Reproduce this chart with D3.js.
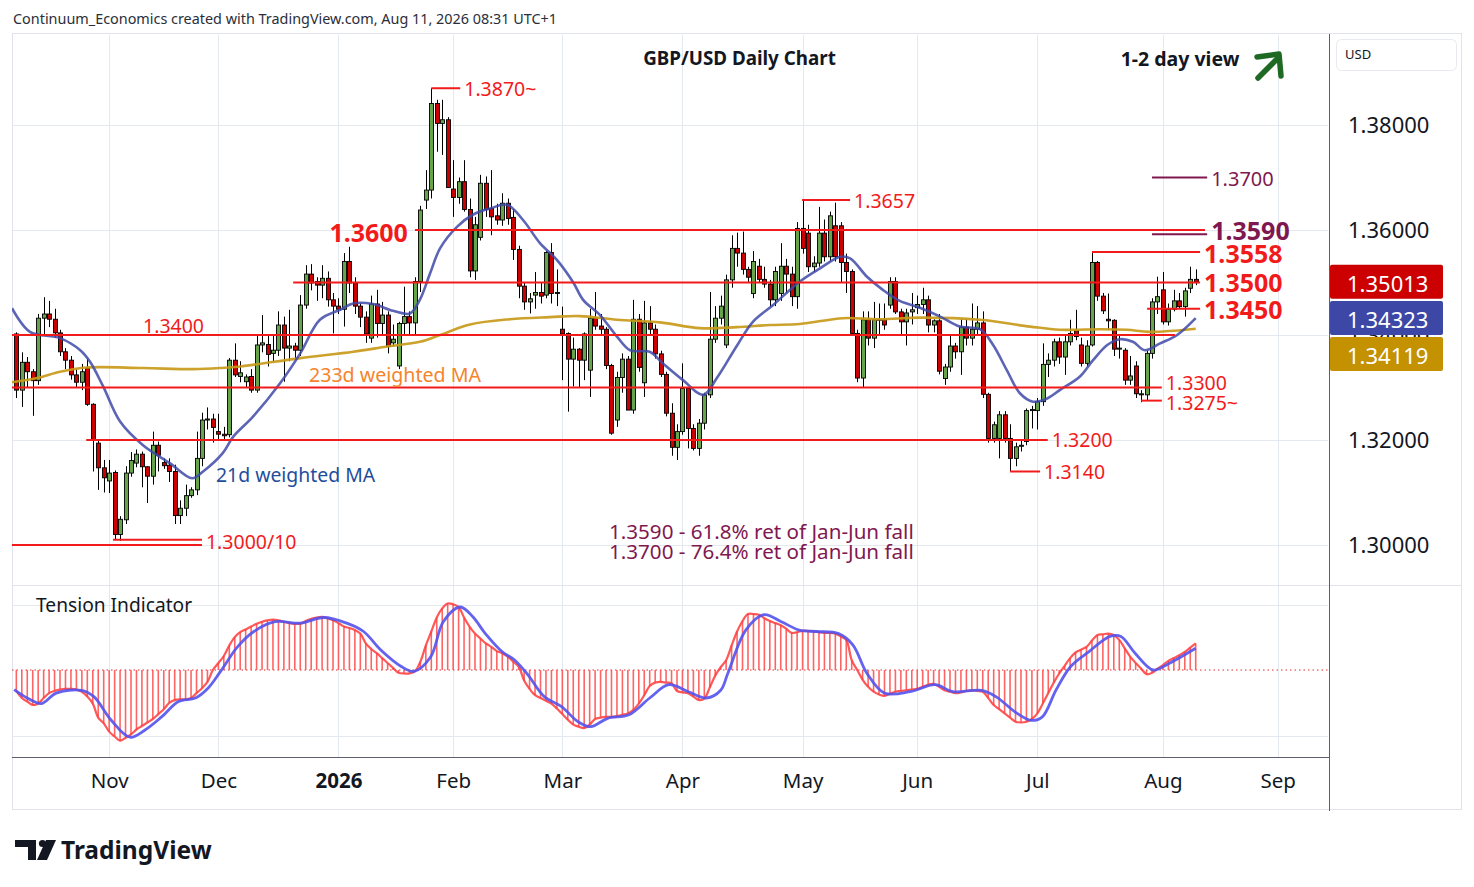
<!DOCTYPE html>
<html><head><meta charset="utf-8">
<script src="https://cdn.jsdelivr.net/npm/d3@7"></script>
<style>body{margin:0;background:#fff;overflow:hidden}text{font-family:"Noto Sans",sans-serif}</style>
</head><body><svg id="c" width="1474" height="887"></svg>
<script>
// ---------------- DATA ----------------
const open=[1.3402,1.3295,1.3348,1.3330,1.3313,1.3432,1.3440,1.3430,1.3404,1.3368,1.3352,1.3324,1.3310,1.3337,1.3268,1.3194,1.3147,
1.3122,1.3138,1.3020,1.3048,1.3137,1.3156,1.3173,1.3149,1.3131,1.3190,1.3157,1.3152,1.3140,1.3056,1.3070,1.3094,1.3105,1.3165,1.3238,1.3240,
1.3216,1.3211,1.3210,1.3352,1.3321,1.3311,1.3321,1.3295,1.3381,1.3382,1.3365,1.3371,1.3419,1.3375,1.3379,1.3371,1.3457,1.3516,1.3502,1.3495,1.3508,1.3467,
1.3455,1.3449,1.3540,1.3499,1.3455,1.3434,1.3394,1.3459,1.3422,1.3438,1.3385,1.3341,1.3422,1.3435,1.3423,1.3502,1.3657,1.3676,1.3841,1.3803,1.3810,
1.3678,1.3662,1.3692,1.3639,1.3522,1.3586,1.3689,1.3641,1.3627,1.3619,1.3651,1.3624,1.3563,1.3493,1.3463,1.3476,1.3481,1.3476,1.3557,1.3480,
1.3411,1.3403,1.3354,1.3373,1.3352,1.3333,1.3432,1.3417,1.3411,1.3342,1.3238,1.3319,1.3354,1.3257,1.3430,1.3309,1.3423,1.3411,1.3364,1.3325,1.3251,1.3186,
1.3216,1.3298,1.3222,1.3184,1.3232,1.3286,1.3392,1.3432,1.3381,1.3505,1.3565,1.3556,1.3525,1.3479,1.3531,1.3506,1.3497,1.3467,1.3479,1.3531,1.3516,1.3473,
1.3603,1.3594,1.3530,1.3537,1.3594,1.3549,1.3608,1.3608,1.3538,1.3521,1.3403,1.3318,1.3429,1.3394,1.3430,1.3429,1.3457,1.3502,1.3444,1.3425,1.3444,
1.3452,1.3458,1.3467,1.3419,1.3427,1.3317,1.3339,1.3379,1.3368,1.3415,1.3394,1.3411,1.3423,1.3287,1.3203,1.3203,1.3248,1.3203,1.3165,1.3188,1.3197,1.3256,
1.3256,1.3273,1.3344,1.3352,1.3387,1.3358,1.3387,1.3408,1.3381,1.3346,1.3381,1.3538,1.3474,1.3430,1.3428,1.3373,1.3371,1.3314,1.3341,1.3286,1.3286,1.3365,1.3463,
1.3486,1.3425,1.3449,1.3465,1.3454,1.3489,1.3506];
const high=[1.3405,1.3367,1.3358,1.3335,1.3440,1.3472,1.3465,1.3450,1.3410,1.3375,1.3360,1.3335,1.3345,1.3355,1.3270,1.3200,1.3162,
1.3162,1.3142,1.3055,1.3150,1.3177,1.3182,1.3178,1.3150,1.3216,1.3197,1.3165,1.3165,1.3153,1.3085,1.3115,1.3110,1.3216,1.3252,1.3262,1.3250,
1.3250,1.3225,1.3356,1.3384,1.3350,1.3325,1.3335,1.3398,1.3438,1.3400,1.3400,1.3445,1.3435,1.3448,1.3385,1.3476,1.3533,1.3535,1.3510,1.3533,1.3521,1.3480,
1.3470,1.3556,1.3568,1.3510,1.3460,1.3445,1.3475,1.3486,1.3463,1.3445,1.3420,1.3425,1.3492,1.3445,1.3510,1.3646,1.3714,1.3870,1.3848,1.3848,1.3815,
1.3733,1.3700,1.3733,1.3660,1.3625,1.3705,1.3702,1.3714,1.3650,1.3670,1.3660,1.3640,1.3570,1.3500,1.3480,1.3520,1.3500,1.3560,1.3575,1.3525,
1.3454,1.3405,1.3395,1.3375,1.3405,1.3450,1.3482,1.3440,1.3415,1.3345,1.3330,1.3365,1.3360,1.3467,1.3440,1.3465,1.3455,1.3420,1.3370,1.3330,1.3270,1.3230,
1.3346,1.3300,1.3230,1.3240,1.3290,1.3482,1.3455,1.3475,1.3515,1.3590,1.3595,1.3597,1.3530,1.3560,1.3545,1.3530,1.3505,1.3530,1.3575,1.3545,1.3530,1.3615,
1.3657,1.3610,1.3550,1.3644,1.3620,1.3635,1.3652,1.3615,1.3555,1.3525,1.3410,1.3445,1.3445,1.3463,1.3460,1.3460,1.3510,1.3510,1.3450,1.3450,1.3480,
1.3475,1.3490,1.3475,1.3430,1.3440,1.3345,1.3400,1.3385,1.3430,1.3430,1.3460,1.3455,1.3445,1.3290,1.3235,1.3255,1.3255,1.3230,1.3195,1.3200,1.3260,1.3265,
1.3280,1.3384,1.3365,1.3393,1.3395,1.3400,1.3429,1.3448,1.3395,1.3390,1.3556,1.3541,1.3480,1.3479,1.3430,1.3400,1.3375,1.3360,1.3350,1.3295,1.3370,1.3470,1.3511,
1.3520,1.3460,1.3486,1.3480,1.3490,1.3530,1.3525];
const low=[1.3280,1.3263,1.3300,1.3246,1.3305,1.3400,1.3415,1.3395,1.3360,1.3335,1.3315,1.3300,1.3295,1.3265,1.3140,1.3105,1.3100,
1.3099,1.3010,1.3008,1.3040,1.3130,1.3148,1.3110,1.3080,1.3115,1.3140,1.3145,1.3120,1.3040,1.3040,1.3055,1.3090,1.3095,1.3150,1.3220,1.3195,
1.3200,1.3200,1.3205,1.3320,1.3310,1.3300,1.3290,1.3290,1.3367,1.3340,1.3350,1.3360,1.3311,1.3350,1.3355,1.3360,1.3450,1.3485,1.3465,1.3470,1.3454,1.3403,
1.3440,1.3416,1.3480,1.3440,1.3415,1.3385,1.3385,1.3395,1.3400,1.3365,1.3378,1.3335,1.3400,1.3400,1.3400,1.3482,1.3640,1.3660,1.3749,1.3743,1.3681,
1.3625,1.3650,1.3635,1.3510,1.3505,1.3580,1.3625,1.3590,1.3610,1.3608,1.3610,1.3543,1.3470,1.3448,1.3441,1.3450,1.3460,1.3470,1.3460,1.3455,
1.3314,1.3254,1.3302,1.3300,1.3314,1.3282,1.3410,1.3400,1.3335,1.3210,1.3225,1.3290,1.3257,1.3250,1.3330,1.3282,1.3400,1.3355,1.3320,1.3245,1.3170,1.3162,
1.3210,1.3184,1.3180,1.3170,1.3220,1.3280,1.3385,1.3420,1.3375,1.3490,1.3530,1.3515,1.3500,1.3470,1.3500,1.3490,1.3454,1.3455,1.3465,1.3480,1.3455,1.3450,
1.3555,1.3520,1.3520,1.3530,1.3540,1.3540,1.3540,1.3500,1.3480,1.3400,1.3310,1.3300,1.3380,1.3375,1.3400,1.3410,1.3450,1.3440,1.3400,1.3380,1.3420,
1.3440,1.3440,1.3405,1.3405,1.3325,1.3305,1.3330,1.3355,1.3324,1.3380,1.3380,1.3400,1.3280,1.3195,1.3195,1.3165,1.3195,1.3140,1.3150,1.3178,1.3190,1.3222,
1.3220,1.3265,1.3320,1.3340,1.3345,1.3324,1.3380,1.3390,1.3340,1.3340,1.3378,1.3465,1.3440,1.3410,1.3360,1.3355,1.3305,1.3305,1.3280,1.3272,1.3275,1.3355,1.3440,
1.3420,1.3418,1.3445,1.3450,1.3435,1.3480,1.3495];
const close=[1.3295,1.3348,1.3330,1.3313,1.3432,1.3440,1.3430,1.3404,1.3368,1.3352,1.3324,1.3310,1.3330,1.3268,1.3200,1.3147,1.3128,
1.3137,1.3020,1.3049,1.3137,1.3161,1.3173,1.3149,1.3131,1.3190,1.3171,1.3151,1.3140,1.3056,1.3070,1.3094,1.3105,1.3165,1.3238,1.3240,1.3224,
1.3211,1.3208,1.3352,1.3324,1.3328,1.3320,1.3295,1.3381,1.3385,1.3363,1.3371,1.3419,1.3375,1.3379,1.3371,1.3457,1.3516,1.3499,1.3495,1.3508,1.3467,1.3455,
1.3449,1.3540,1.3499,1.3455,1.3434,1.3402,1.3459,1.3422,1.3438,1.3378,1.3392,1.3422,1.3435,1.3423,1.3502,1.3638,1.3676,1.3841,1.3803,1.3810,1.3681,
1.3662,1.3692,1.3639,1.3522,1.3610,1.3689,1.3639,1.3625,1.3619,1.3651,1.3622,1.3563,1.3493,1.3463,1.3469,1.3481,1.3474,1.3557,1.3479,1.3481,
1.3402,1.3354,1.3373,1.3352,1.3402,1.3432,1.3417,1.3411,1.3342,1.3213,1.3319,1.3354,1.3257,1.3430,1.3338,1.3423,1.3411,1.3364,1.3325,1.3251,1.3186,1.3216,
1.3298,1.3222,1.3184,1.3232,1.3286,1.3392,1.3432,1.3455,1.3505,1.3565,1.3556,1.3525,1.3510,1.3540,1.3506,1.3497,1.3467,1.3521,1.3531,1.3516,1.3473,1.3603,
1.3565,1.3530,1.3537,1.3594,1.3549,1.3627,1.3549,1.3538,1.3521,1.3403,1.3318,1.3429,1.3394,1.3429,1.3428,1.3419,1.3502,1.3444,1.3425,1.3442,1.3448,
1.3458,1.3467,1.3419,1.3427,1.3331,1.3339,1.3379,1.3368,1.3415,1.3394,1.3411,1.3423,1.3287,1.3203,1.3229,1.3248,1.3203,1.3165,1.3187,1.3190,1.3256,1.3258,
1.3273,1.3344,1.3352,1.3387,1.3358,1.3387,1.3403,1.3397,1.3346,1.3379,1.3538,1.3474,1.3446,1.3427,1.3373,1.3375,1.3314,1.3322,1.3288,1.3288,1.3365,1.3463,1.3473,
1.3425,1.3449,1.3465,1.3454,1.3484,1.3506,1.3501];

// 21d and 233d weighted moving averages: [candle index, value]
const ma21=[[-0.8,1.3451],[2.5,1.3406],[8,1.3394],[11.7,1.3371],[13.5,1.3349],[15.9,1.3302],[19,1.3235],[23.2,1.3190],[28.1,1.3156],[32.2,1.3127],[34.2,1.3140],[37.8,1.3175],[39.7,1.3206],[43.3,1.3244],[48.3,1.3308],[52,1.3365],[55.6,1.3429],[59.3,1.3448],[61.7,1.3460],[65.3,1.3459],[69,1.3446],[72.1,1.3441],[73.9,1.3467],[75.8,1.3518],[77.6,1.3565],[80.7,1.3606],[83.6,1.3629],[86.8,1.3641],[89.9,1.3648],[92.8,1.3619],[95.9,1.3575],[99,1.3543],[102,1.3500],[103.8,1.3467],[106.9,1.3438],[110,1.3397],[112.4,1.3371],[116,1.3368],[118.4,1.3346],[122.1,1.3314],[125.8,1.3286],[128.3,1.3318],[132,1.3380],[134.9,1.3425],[138.6,1.3457],[143.5,1.3502],[147.2,1.3527],[150.9,1.3549],[152.7,1.3546],[155.8,1.3511],[158.7,1.3486],[161.8,1.3465],[165.5,1.3452],[169.2,1.3435],[172.8,1.3416],[176.5,1.3411],[178.9,1.3381],[181.4,1.3333],[183.8,1.3289],[186.2,1.3273],[188.8,1.3279],[191.1,1.3295],[194.8,1.3321],[197.2,1.3352],[199.8,1.3381],[202.1,1.3392],[204.5,1.3387],[206.7,1.3371],[209.5,1.3384],[212.6,1.3400],[216,1.3432]];
const ma233=[[-0.8,1.3310],[3.8,1.3318],[8,1.3330],[12.9,1.3338],[23.2,1.3337],[32.4,1.3335],[37.3,1.3337],[41,1.3340],[52,1.3356],[61.7,1.3368],[67.9,1.3378],[73.9,1.3387],[77.6,1.3400],[83.1,1.3420],[90.4,1.3430],[97.7,1.3434],[103.2,1.3436],[110,1.3429],[117.9,1.3424],[125.2,1.3413],[132,1.3415],[138,1.3419],[143.5,1.3421],[151.4,1.3432],[158.2,1.3430],[165.5,1.3433],[176.5,1.3429],[185.7,1.3416],[191.1,1.3410],[198.5,1.3411],[203.4,1.3410],[207.6,1.3406],[216,1.3412]];

// Tension indicator (per candle) and its signal line
const tension=[-0.30,-0.40,-0.45,-0.50,-0.48,-0.40,-0.33,-0.30,-0.28,-0.27,-0.27,-0.28,-0.31,-0.38,-0.48,-0.68,-0.76,-0.88,-0.95,-1.01,
-0.97,-0.92,-0.85,-0.80,-0.75,-0.70,-0.63,-0.56,-0.47,-0.43,-0.42,-0.42,-0.40,-0.33,-0.26,-0.17,0.00,0.10,0.20,0.35,
0.47,0.54,0.58,0.62,0.66,0.69,0.71,0.72,0.71,0.69,0.67,0.66,0.66,0.70,0.73,0.75,0.76,0.74,0.71,0.67,
0.62,0.60,0.57,0.52,0.38,0.30,0.24,0.17,0.10,0.03,-0.04,-0.05,-0.05,-0.02,0.12,0.35,0.55,0.75,0.88,0.95,
0.94,0.90,0.75,0.62,0.52,0.45,0.38,0.33,0.27,0.24,0.19,0.12,0.05,-0.15,-0.27,-0.36,-0.40,-0.44,-0.48,-0.55,
-0.63,-0.71,-0.78,-0.81,-0.83,-0.78,-0.70,-0.68,-0.67,-0.67,-0.66,-0.64,-0.62,-0.57,-0.48,-0.36,-0.23,-0.18,-0.17,-0.18,
-0.19,-0.30,-0.32,-0.33,-0.38,-0.43,-0.41,-0.25,-0.08,0.04,0.14,0.35,0.55,0.70,0.80,0.80,0.79,0.74,0.70,0.67,
0.64,0.59,0.53,0.54,0.56,0.56,0.55,0.54,0.53,0.53,0.52,0.48,0.43,0.14,0.00,-0.14,-0.24,-0.31,-0.35,-0.37,
-0.34,-0.31,-0.30,-0.29,-0.28,-0.27,-0.24,-0.21,-0.20,-0.24,-0.29,-0.31,-0.33,-0.32,-0.30,-0.29,-0.30,-0.31,-0.40,-0.50,
-0.56,-0.62,-0.68,-0.74,-0.75,-0.74,-0.70,-0.62,-0.48,-0.33,-0.18,-0.05,0.06,0.17,0.25,0.29,0.33,0.42,0.50,0.51,
0.52,0.50,0.43,0.31,0.19,0.10,0.02,-0.06,-0.04,0.02,0.07,0.13,0.17,0.21,0.26,0.32,0.38];
const tensionSignal=[[-0.4,-0.28],[2,-0.40],[4.6,-0.48],[7.3,-0.33],[11.9,-0.29],[14.2,-0.38],[17.3,-0.71],[20.8,-0.96],[23.5,-0.86],[26.6,-0.67],[29.7,-0.45],[32.8,-0.40],[35.1,-0.26],[37.4,-0.02],[40.5,0.33],[43.5,0.55],[47.4,0.69],[52,0.67],[56.3,0.75],[60.5,0.67],[63.6,0.55],[66.7,0.29],[70.5,0.05],[72.8,-0.02],[75.9,0.19],[78.2,0.69],[81.3,0.90],[83.6,0.76],[85.9,0.52],[89,0.26],[91.3,0.14],[93.7,-0.07],[96.7,-0.38],[99.8,-0.52],[102.9,-0.74],[105.2,-0.81],[108.3,-0.69],[112.2,-0.64],[116,-0.40],[119.5,-0.21],[123.1,-0.31],[126.4,-0.40],[129,-0.29],[130.3,-0.05],[133.6,0.57],[136.9,0.79],[140.1,0.69],[143.4,0.57],[146.6,0.55],[150.6,0.52],[153.2,0.36],[155.8,-0.05],[159,-0.33],[163.7,-0.31],[168.3,-0.21],[171.5,-0.31],[176.8,-0.29],[179.4,-0.38],[183.3,-0.62],[185.9,-0.72],[187.9,-0.67],[190.4,-0.29],[193.1,0.05],[196.4,0.26],[200.3,0.48],[202.3,0.48],[204.9,0.24],[208.2,0.00],[210.8,0.08],[216,0.31]];

// Trading calendar
const firstDay="2025-10-09";
const holidays=["2025-12-25","2026-01-01"];
const monthNames=["Jan","Feb","Mar","Apr","May","Jun","Jul","Aug","Sep","Oct","Nov","Dec"];

// Price axis ticks and last-value tags
const priceTicks=[1.30,1.32,1.34,1.36,1.38];
const lastValues=[{label:"close",value:1.35013},{label:"ma21",value:1.34323},{label:"ma233",value:1.34119}];

// Support / resistance annotations: price, from-candle, to-candle (labelPrice = where the text sits)
const levels=[
 {price:1.3870,from:76,to:81.3,label:"1.3870~",kind:"small",at:"right"},
 {price:1.3657,from:143.9,to:152.7,label:"1.3657",kind:"small",at:"right"},
 {price:1.3600,from:73,to:217.7,label:"1.3600",kind:"big",at:"left"},
 {price:1.3558,from:197,to:216.8,label:"1.3558",kind:"big",at:"right",labelPrice:1.3556},
 {price:1.3500,from:50.7,to:216.8,label:"1.3500",kind:"big",at:"right"},
 {price:1.3450,from:207.1,to:216.8,label:"1.3450",kind:"big",at:"right"},
 {price:1.3400,from:-0.8,to:212.2,label:"1.3400",kind:"small",at:"above",labelIdx:23.2},
 {price:1.3300,from:-0.8,to:209.8,label:"1.3300",kind:"small",at:"right",labelPrice:1.3309},
 {price:1.3275,from:206,to:209.8,label:"1.3275~",kind:"small",at:"right",labelPrice:1.3271},
 {price:1.3200,from:12.8,to:188.9,label:"1.3200",kind:"small",at:"right"},
 {price:1.3140,from:182,to:187.5,label:"1.3140",kind:"small",at:"right"},
 {price:1.3010,from:17.7,to:34,label:"",kind:"small",at:"right"},
 {price:1.3000,from:-0.8,to:34,label:"1.3000/10",kind:"small",at:"right",labelPrice:1.3006},
 {price:1.3700,from:208,to:218.1,label:"1.3700",kind:"fibSmall",at:"right",labelPrice:1.3699},
 {price:1.3592,from:208,to:218.1,label:"1.3590",kind:"fibBig",at:"right",labelPrice:1.3600}
];
const notes=["1.3590 - 61.8% ret of Jan-Jun fall","1.3700 - 76.4% ret of Jan-Jun fall"];

// ---------------- STYLES ----------------
const S={
 up:"#67a34a",down:"#cc0000",red:"#f21b1b",purple:"#801850",
 ma21:"#3f49a8",ma233:"#c89a1a",grid:"#e4e9f0",frame:"#e0e3eb",axisLine:"#5d606b",text:"#131722"
};
const kindStyle={
 big:{color:S.red,size:25,weight:700},
 small:{color:S.red,size:19.5,weight:400},
 fibBig:{color:S.purple,size:25,weight:700},
 fibSmall:{color:S.purple,size:20,weight:400}
};

// ---------------- BUILD ----------------
const fmt=d3.timeFormat("%Y-%m-%d");
const dates=[];
{ let d=d3.timeParse("%Y-%m-%d")(firstDay);
  while(dates.length<241){ const w=d.getDay(); if(w!==0&&w!==6&&!holidays.includes(fmt(d))) dates.push(new Date(d)); d=d3.timeDay.offset(d,1);} }
const monthIdx=[];
for(let i=1;i<dates.length;i++) if(dates[i].getMonth()!==dates[i-1].getMonth()) monthIdx.push(i);

const L=12,R=1328,T=35,B=585,TB=757;
const x=d3.scaleLinear().domain([-0.795,240.23]).range([L,R]);
const y=d3.scaleLinear().domain([1.29238,1.39714]).range([B,T]);
const yt=d3.scaleLinear().domain([-1,1]).range([740,600]);

const svg=d3.select("#c");
svg.append("rect").attr("width",1474).attr("height",887).attr("fill","#fff");
const defs=svg.append("defs");
defs.append("clipPath").attr("id","cm").append("rect").attr("x",L).attr("y",T-1).attr("width",R-L).attr("height",B-T+1);
defs.append("clipPath").attr("id","ct").append("rect").attr("x",L).attr("y",B+1).attr("width",R-L).attr("height",TB-B-1);

// header
svg.append("text").attr("x",13).attr("y",24).attr("font-size",14.4).attr("fill","#2a2e39")
  .text("Continuum_Economics created with TradingView.com, Aug 11, 2026 08:31 UTC+1");

// grid
const grid=svg.append("g");
monthIdx.forEach(i=>{ if(x(i)<R) grid.append("line").attr("x1",Math.round(x(i))+0.5).attr("x2",Math.round(x(i))+0.5).attr("y1",T).attr("y2",TB).attr("stroke",S.grid); });
priceTicks.forEach(p=>grid.append("line").attr("x1",L).attr("x2",R).attr("y1",Math.round(y(p))+0.5).attr("y2",Math.round(y(p))+0.5).attr("stroke",S.grid));
[0.93,-0.94].forEach(v=>grid.append("line").attr("x1",L).attr("x2",R).attr("y1",Math.round(yt(v))+0.5).attr("y2",Math.round(yt(v))+0.5).attr("stroke",S.grid));

// frame & separators
svg.append("rect").attr("x",L+0.5).attr("y",T-1.5).attr("width",1461-L).attr("height",811-T).attr("fill","none").attr("stroke",S.frame);
svg.append("line").attr("x1",L).attr("x2",1461).attr("y1",B+0.5).attr("y2",B+0.5).attr("stroke",S.frame);
svg.append("line").attr("x1",L).attr("x2",R+1).attr("y1",TB+0.5).attr("y2",TB+0.5).attr("stroke",S.axisLine);
svg.append("line").attr("x1",R+1.5).attr("x2",R+1.5).attr("y1",T-1).attr("y2",811).attr("stroke",S.axisLine);

// main pane
const main=svg.append("g").attr("clip-path","url(#cm)");
const idx=d3.range(close.length);
const cg=main.append("g");
cg.selectAll("line.w").data(idx).join("line").attr("class","w")
  .attr("x1",i=>Math.round(x(i))+0.5).attr("x2",i=>Math.round(x(i))+0.5)
  .attr("y1",i=>y(high[i])).attr("y2",i=>y(low[i])).attr("stroke","#000").attr("stroke-width",1);
cg.selectAll("rect.b").data(idx).join("rect").attr("class","b")
  .attr("x",i=>Math.round(x(i))-1.5).attr("width",4)
  .attr("y",i=>y(Math.max(open[i],close[i])))
  .attr("height",i=>Math.max(1,Math.abs(y(open[i])-y(close[i]))))
  .attr("fill",i=>close[i]>=open[i]?S.up:S.down).attr("stroke","#000").attr("stroke-width",0.9);

const lineGen=d3.line().x(d=>x(d[0])).y(d=>y(d[1])).curve(d3.curveCatmullRom.alpha(0.5));
main.append("path").attr("d",lineGen(ma233)).attr("fill","none").attr("stroke",S.ma233).attr("stroke-width",2.6).attr("opacity",0.92);
main.append("path").attr("d",lineGen(ma21)).attr("fill","none").attr("stroke",S.ma21).attr("stroke-width",2.6).attr("opacity",0.85);

// levels
const lv=svg.append("g");
levels.forEach(l=>{
  const st=kindStyle[l.kind];
  const yy=y(l.price);
  lv.append("line").attr("x1",x(l.from)).attr("x2",x(l.to)).attr("y1",yy).attr("y2",yy)
    .attr("stroke",st.color).attr("stroke-width",2);
  if(!l.label) return;
  const t=lv.append("text").attr("fill",st.color).attr("font-size",st.size).attr("font-weight",st.weight).text(l.label);
  const ty=l.labelPrice?y(l.labelPrice):yy;
  if(l.at==="right") t.attr("x",x(l.to)+4).attr("y",ty).attr("dominant-baseline","central");
  else if(l.at==="left") t.attr("x",x(l.from)-7).attr("y",yy+2).attr("text-anchor","end").attr("dominant-baseline","central");
  else t.attr("x",x(l.labelIdx)).attr("y",yy-1.5);
});

// texts
svg.append("text").attr("x",739.5).attr("y",65).attr("text-anchor","middle").attr("font-size",18.8).attr("font-weight",700).attr("fill",S.text).text("GBP/USD Daily Chart");
svg.append("text").attr("x",1180).attr("y",66).attr("text-anchor","middle").attr("font-size",19.5).attr("font-weight",700).attr("fill",S.text).text("1-2 day view");
svg.append("path").attr("d","M1258,78 L1278,58").attr("stroke","#1e6a24").attr("stroke-width",5.5).attr("stroke-linecap","round");
svg.append("path").attr("d","M1257,57 L1279,54 L1281,76").attr("fill","none").attr("stroke","#1e6a24").attr("stroke-width",5.5).attr("stroke-linecap","round").attr("stroke-linejoin","round");
svg.append("text").attr("x",309).attr("y",382).attr("font-size",19.6).attr("fill","#f5842a").text("233d weighted MA");
svg.append("text").attr("x",216).attr("y",482).attr("font-size",19.4).attr("fill","#1f4e9b").text("21d weighted MA");
notes.forEach((n,k)=>svg.append("text").attr("x",609).attr("y",539+k*20).attr("font-size",20.6).attr("fill",S.purple).text(n));

// tension pane
const tp=svg.append("g").attr("clip-path","url(#ct)");
tp.append("line").attr("x1",L).attr("x2",R).attr("y1",yt(0)).attr("y2",yt(0)).attr("stroke","#e03030").attr("stroke-width",1.2).attr("stroke-dasharray","1.5,3");
tp.selectAll("line.h").data(idx).join("line").attr("class","h")
  .attr("x1",i=>x(i)).attr("x2",i=>x(i)).attr("y1",yt(0)).attr("y2",i=>yt(tension[i]))
  .attr("stroke","#ff4a4a").attr("stroke-width",1.6).attr("opacity",0.85);
const tl=d3.line().x(d=>x(d[0])).y(d=>yt(d[1])).curve(d3.curveCatmullRom.alpha(0.5));
tp.append("path").attr("d",tl(tension.map((v,i)=>[i,v]))).attr("fill","none").attr("stroke","#ff3b3b").attr("stroke-width",2.2).attr("opacity",0.85);
tp.append("path").attr("d",tl(tensionSignal)).attr("fill","none").attr("stroke","#5252ee").attr("stroke-width",2.8).attr("opacity",0.9);
svg.append("text").attr("x",36).attr("y",612).attr("font-size",19.2).attr("fill",S.text).text("Tension Indicator");

// price axis
const pa=svg.append("g").attr("transform",`translate(${R+1},0)`)
  .call(d3.axisRight(y).tickValues(priceTicks).tickFormat(d3.format(".5f")).tickSize(0).tickPadding(19));
pa.select(".domain").remove();
pa.selectAll("text").attr("font-size",22).attr("fill",S.text).attr("font-family","Noto Sans");
svg.append("rect").attr("x",1336.5).attr("y",39.5).attr("width",120).attr("height",31).attr("rx",5).attr("fill","#fff").attr("stroke","#e8eaef");
svg.append("text").attr("x",1345).attr("y",59).attr("font-size",13).attr("fill",S.text).text("USD");

// last value tags
const tagColors=[S.down,"#3d47a6","#c49100"];
let prevY=-1e9;
lastValues.forEach((t,k)=>{
  let cy=Math.max(y(t.value),prevY+36); prevY=cy;
  svg.append("rect").attr("x",R+2).attr("y",cy-17).attr("width",113).attr("height",34).attr("rx",2).attr("fill",tagColors[k]);
  svg.append("text").attr("x",1347).attr("y",cy+1).attr("dominant-baseline","central").attr("font-size",22).attr("fill","#fff").text(d3.format(".5f")(t.value));
});

// time axis
const ta=svg.append("g").attr("transform",`translate(0,${TB})`)
  .call(d3.axisBottom(x).tickValues(monthIdx.filter(i=>x(i)<R)).tickSize(0).tickPadding(16)
  .tickFormat(i=>dates[i].getMonth()===0?String(dates[i].getFullYear()):monthNames[dates[i].getMonth()]));
ta.select(".domain").remove();
ta.selectAll("text").attr("font-size",20.5).attr("fill",S.text).attr("font-family","Noto Sans")
  .attr("font-weight",i=>dates[i].getMonth()===0?700:400);

// TradingView logo
const lg=svg.append("g").attr("fill","#131722");
lg.append("path").attr("d","M15,840 H36 V860 H28 V847 H15 Z");
lg.append("circle").attr("cx",42.5).attr("cy",843.5).attr("r",3.6);
lg.append("path").attr("d","M46,840 H56 L47,860 H37 Z");
svg.append("text").attr("x",61).attr("y",859).attr("font-size",24.5).attr("font-weight",700).attr("fill","#131722").text("TradingView");
</script></body></html>
